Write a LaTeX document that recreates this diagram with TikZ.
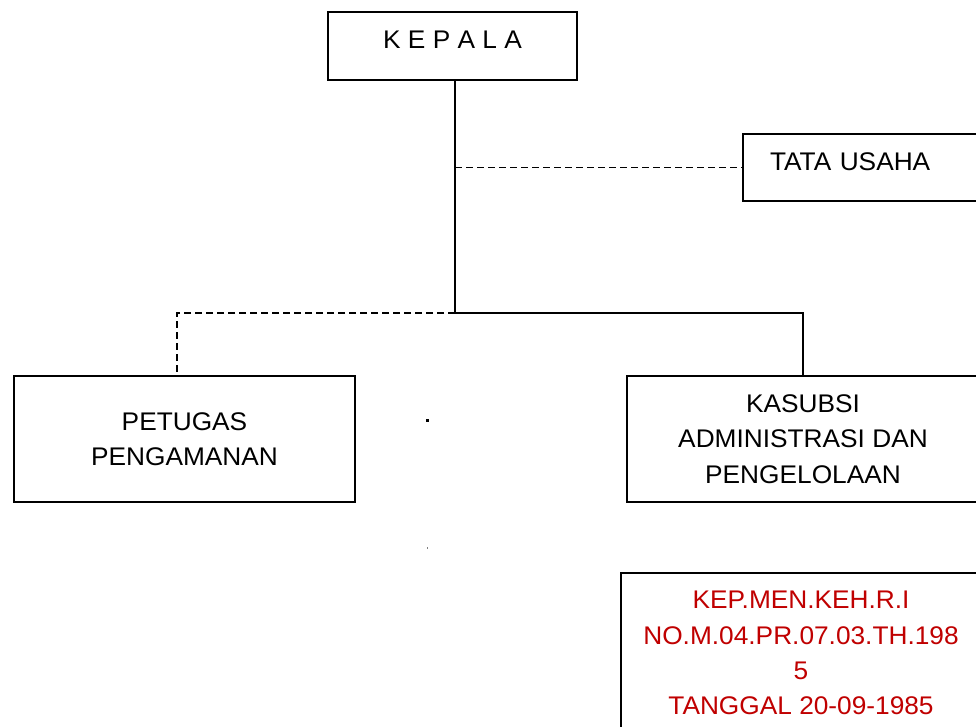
\documentclass[tikz,border=0pt]{standalone}
\usepackage{fontspec}
\setmainfont{Liberation Sans}[FakeStretch=1.03]
\definecolor{kepred}{RGB}{192,0,0}
\begin{document}
\begin{tikzpicture}[x=1pt,y=-1pt,
  box/.style={draw, line width=1.8pt, inner sep=0pt, outer sep=0pt, align=center,
    font=\fontsize{25.5}{35.3}\selectfont},
  solidline/.style={line width=2pt},
  dashline/.style={line width=1.8pt, dash pattern=on 7pt off 4pt}]
\useasboundingbox (0,0) rectangle (976,726);
\clip (0,0) rectangle (976,726);
\fill[white] (0,0) rectangle (976,726);

\node[box, minimum width=249, minimum height=68, text height=18.3, text depth=13.3] (kepala) at (452.5,46) {K E P A L A};
\node[box, anchor=north west, minimum height=67, text width=210, inner xsep=27, align=left,
  text height=18.3, text depth=13.3] (tata) at (743,134) {TATA USAHA};
\node[box, minimum width=341, minimum height=126] (petugas) at (184.5,439) {PETUGAS\\PENGAMANAN};
\node[box, minimum width=352, minimum height=126] (kasubsi) at (803,439) {KASUBSI\\ADMINISTRASI DAN\\PENGELOLAAN};
\node[box, text=kepred, minimum width=360, minimum height=160] (kep) at (801,653)
  {KEP.MEN.KEH.R.I\\NO.M.04.PR.07.03.TH.198\\5\\TANGGAL 20-09-1985};

\coordinate (j) at (455,313);
\coordinate (pj) at (177,313);

\draw[solidline] (kepala.south -| j) -- (j);
\draw[dashline] (tata.west -| j) -- (tata.west);
\draw[solidline] (j) -| (kasubsi.north);
\draw[dashline] (j) -- (pj) -- (pj |- petugas.north);

\fill (426,419) rectangle (428.5,422);
\fill[gray] (426.5,547) rectangle (427.5,549);
\end{tikzpicture}
\end{document}
